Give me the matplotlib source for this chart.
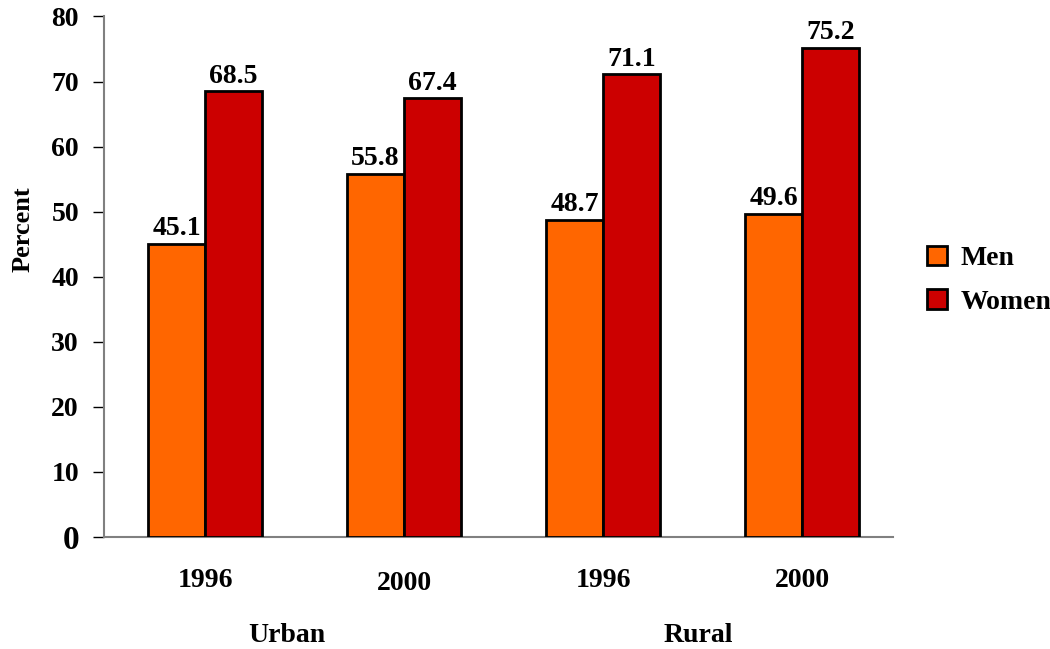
import numpy as np
import matplotlib
matplotlib.use("Agg")
from matplotlib import pyplot as plt
from matplotlib.patches import Patch

# ___DATA___ #
years = ["1996", "2000", "1996", "2000"]
areas = ["Urban", "Rural"]
men = [45.1, 55.8, 48.7, 49.6]
women = [68.5, 67.4, 71.1, 75.2]
yTicks = [0, 10, 20, 30, 40, 50, 60, 70, 80]

menColor = "#FF6600"
womenColor = "#CC0000"

plt.rcParams["font.family"] = ["Liberation Serif", "DejaVu Serif"]
plt.rcParams["font.weight"] = "bold"

fig = plt.figure(figsize=(10.5, 6.49), dpi=100)
ax = fig.add_axes([0.099, 0.1726, 0.7515, 0.802])

x = np.arange(len(years))
barWidth = 0.287

# Men bars sit left of centre, women bars right of centre.
menBars = ax.bar(x - barWidth / 2, men, barWidth, color=menColor,
                 edgecolor="black", linewidth=2, zorder=3)
womenBars = ax.bar(x + barWidth / 2, women, barWidth, color=womenColor,
                   edgecolor="black", linewidth=2, zorder=3)

for bars, values in [(menBars, men), (womenBars, women)]:
    for bar, value in zip(bars, values):
        ax.annotate(f"{value:.1f}", (bar.get_x() + bar.get_width() / 2, value),
                    xytext=(0, 2), textcoords="offset points",
                    ha="center", va="bottom", fontsize=20, fontweight="bold")

ax.set_xlim(-0.508, 3.457)
ax.set_ylim(0, 80)
ax.set_yticks(yTicks)
ax.set_yticklabels([str(t) for t in yTicks], fontsize=20, fontweight="bold")
ax.get_yticklabels()[0].set_fontsize(24)
ax.tick_params(axis="y", direction="out", length=8, width=1, color="black", pad=10)
ax.set_xticks([])

for side in ["top", "right"]:
    ax.spines[side].set_visible(False)
ax.spines["left"].set_color("#808080")
ax.spines["bottom"].set_color("#808080")
ax.spines["left"].set_linewidth(1.5)
ax.spines["bottom"].set_linewidth(1.5)

# Year labels under each pair; the urban 2000 one sits a touch lower in the original.
yearOffsets = [-0.083, -0.089, -0.083, -0.083]
for pos, year, off in zip(x, years, yearOffsets):
    ax.text(pos, off, year, transform=ax.get_xaxis_transform(),
            ha="center", va="center", fontsize=20, fontweight="bold")

# Area labels below the years.
for pos, area in zip([0.41, 2.48], areas):
    ax.text(pos, -0.19, area, transform=ax.get_xaxis_transform(),
            ha="center", va="center", fontsize=20, fontweight="bold")

fig.text(0.022, 0.647, "Percent", rotation=90, ha="center", va="center",
         fontsize=19, fontweight="bold")

handles = [Patch(facecolor=menColor, edgecolor="black", linewidth=2),
           Patch(facecolor=womenColor, edgecolor="black", linewidth=2)]
fig.legend(handles, ["Men", "Women"], loc="center left",
           bbox_to_anchor=(0.883, 0.568), frameon=False,
           handlelength=0.7, handleheight=0.7, handletextpad=0.5,
           labelspacing=0.65, borderpad=0, borderaxespad=0,
           prop={"size": 20, "weight": "bold"})

fig.savefig("out.png", dpi=100)
